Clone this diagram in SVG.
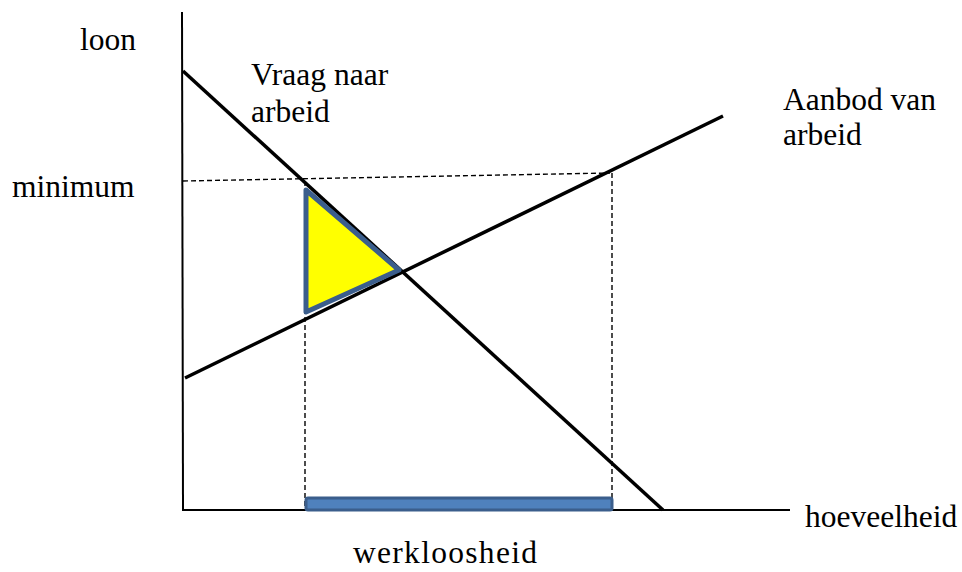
<svg xmlns="http://www.w3.org/2000/svg" width="962" height="572" viewBox="0 0 962 572">
<style>
text{font-family:'Liberation Serif','Times New Roman',serif;font-size:31.5px;fill:#000}
.ax{stroke:#000;stroke-width:2;fill:none}
.ln{stroke:#000;stroke-width:3.5;fill:none;stroke-linecap:butt}
.d{stroke:#000;stroke-width:1.4;stroke-dasharray:5,3;fill:none}
</style>
<rect width="962" height="572" fill="#fff"/>
<g id="axes">
<line class="ax" x1="182" y1="12" x2="183" y2="510"/>
<line class="ax" x1="182" y1="510" x2="790" y2="510"/>
</g>
<g id="connectors">
<line class="d" x1="183" y1="181" x2="610" y2="173"/>
<line class="d" x1="305" y1="181" x2="305" y2="510"/>
<line class="d" x1="612" y1="173" x2="612" y2="510"/>
<line id="demand" class="ln" x1="183" y1="71" x2="663" y2="510"/>
<line id="supply" class="ln" x1="185" y1="378" x2="723" y2="116"/>
</g>
<g id="triangle">
<polygon points="306,190 399,270 306,312" fill="#ffff00" stroke="#3b5e8c" stroke-width="5" stroke-linejoin="round"/>
</g>
<g id="bar">
<rect x="306" y="498" width="306" height="12" rx="2" fill="#4f81bd" stroke="#3b5e8c" stroke-width="3"/>
</g>
<g id="labels">
<text x="80" y="50">loon</text>
<text x="12" y="197">minimum</text>
<text x="251" y="85">Vraag naar</text>
<text x="251" y="122">arbeid</text>
<text x="783" y="110">Aanbod van</text>
<text x="783" y="145">arbeid</text>
<text x="805" y="527">hoeveelheid</text>
<text x="353" y="563" textLength="184" lengthAdjust="spacing">werkloosheid</text>
</g>
</svg>
